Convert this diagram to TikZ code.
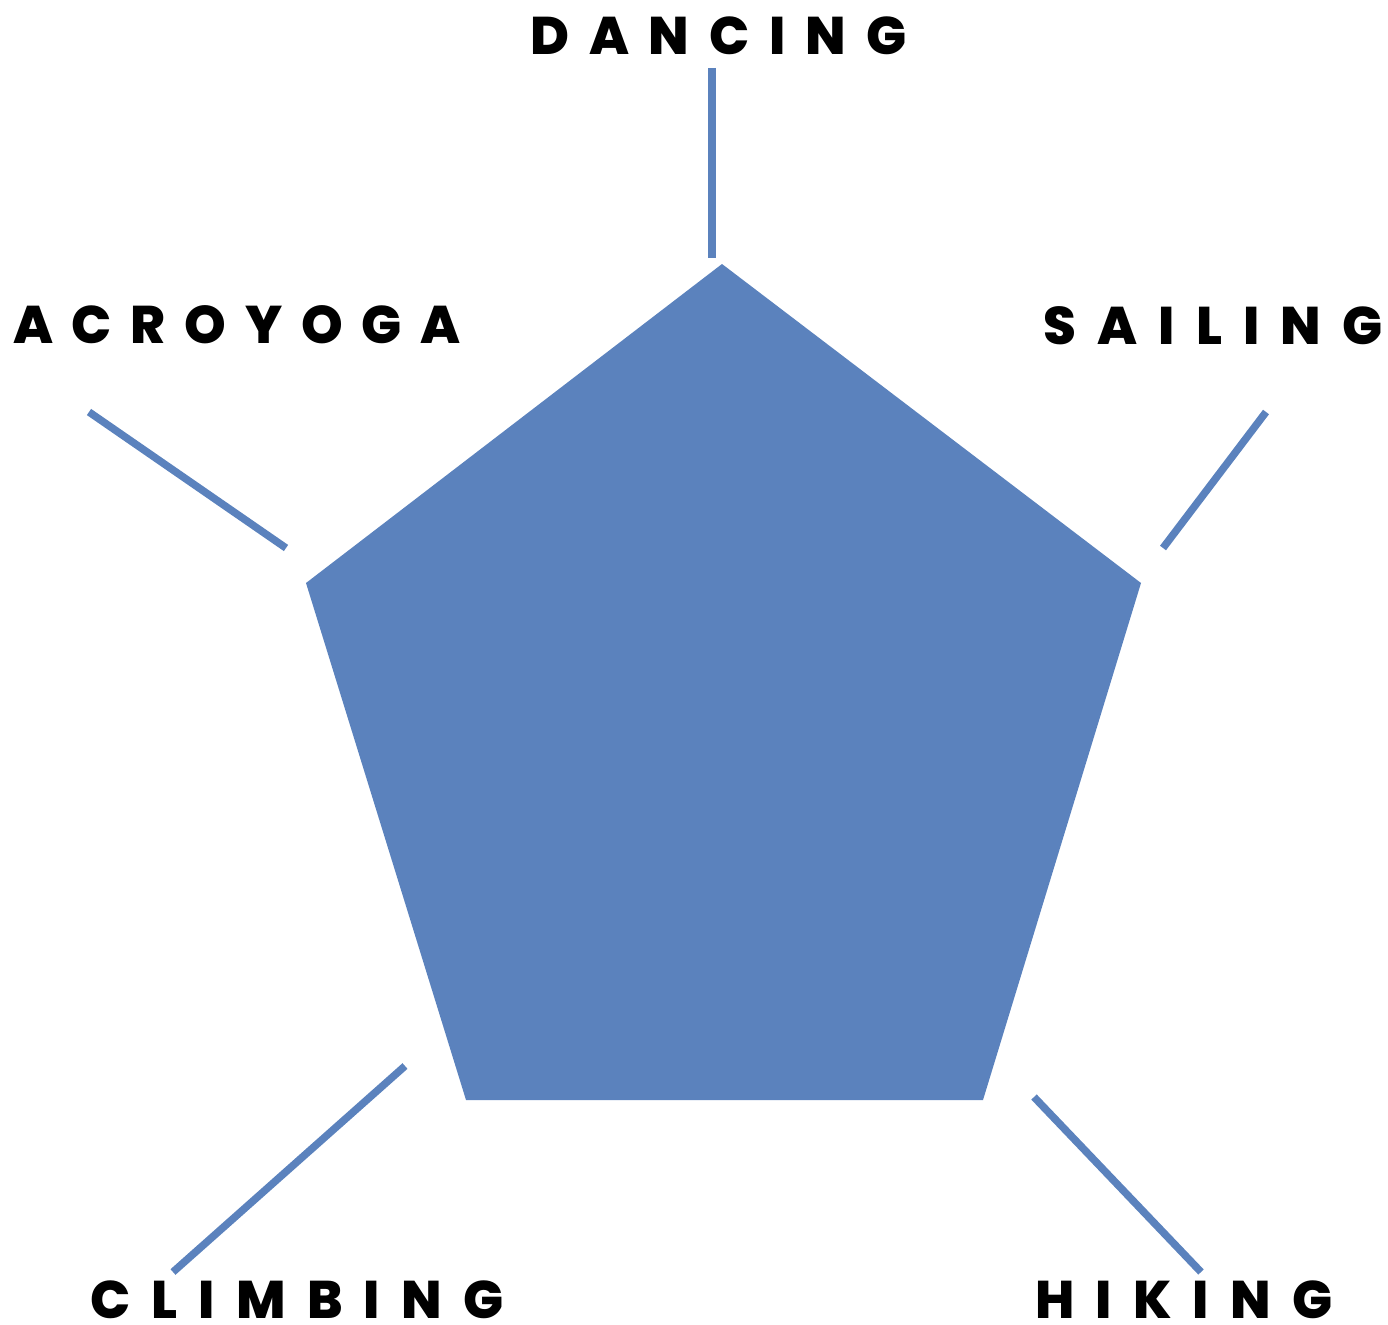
\documentclass[tikz,border=0pt]{standalone}
\usepackage{fontspec}
\newfontfamily\labelfont{Poppins}[LetterSpace=40,BoldFont={Poppins ExtraBold}]
\newfontfamily\labelfontn{Poppins}[LetterSpace=35.5,BoldFont={Poppins ExtraBold}]
\newfontfamily\labelfontm{Poppins}[LetterSpace=37.5,BoldFont={Poppins ExtraBold}]
\definecolor{pentblue}{HTML}{5B82BD}
\begin{document}
\begin{tikzpicture}[x=1pt,y=-1pt,
  spoke/.style={draw=pentblue,line width=7.5pt},
  lbl/.style={anchor=base west,inner sep=0pt,text depth=0pt,font=\labelfont\bfseries\fontsize{53}{60}\selectfont,text=black},
  lbln/.style={lbl,font=\labelfontn\bfseries\fontsize{53}{60}\selectfont},
  lblm/.style={lbl,font=\labelfontm\bfseries\fontsize{53}{60}\selectfont}]
\useasboundingbox (0,0) rectangle (1388,1324);
\coordinate (p1) at (722,264);
\coordinate (p2) at (1141,583);
\coordinate (p3) at (983,1100);
\coordinate (p4) at (466,1100);
\coordinate (p5) at (306,583);
\fill[pentblue] (p1) -- (p2) -- (p3) -- (p4) -- (p5) -- cycle;
% spokes
\coordinate (d1) at (712,68);   \coordinate (d2) at (712,258);
\coordinate (a1) at (89,412);   \coordinate (a2) at (286,548);
\coordinate (s1) at (1266,412); \coordinate (s2) at (1163,548);
\coordinate (c1) at (405,1066); \coordinate (c2) at (173,1272);
\coordinate (h1) at (1034,1097);\coordinate (h2) at (1201,1272);
\draw[spoke] (d1) -- (d2);
\draw[spoke] (a1) -- (a2);
\draw[spoke] (s1) -- (s2);
\draw[spoke] (c1) -- (c2);
\draw[spoke] (h1) -- (h2);
% labels
\node[lblm] (dancing) at (530,55) {DANCING};
\node[lbln] (acroyoga) at (13,343) {ACROYOGA};
\node[lbl] (sailing) at (1043,344) {SAILING};
\node[lbl] (climbing) at (90,1318) {CLIMBING};
\node[lbl] (hiking) at (1035,1318) {HIKING};
\end{tikzpicture}
\end{document}
